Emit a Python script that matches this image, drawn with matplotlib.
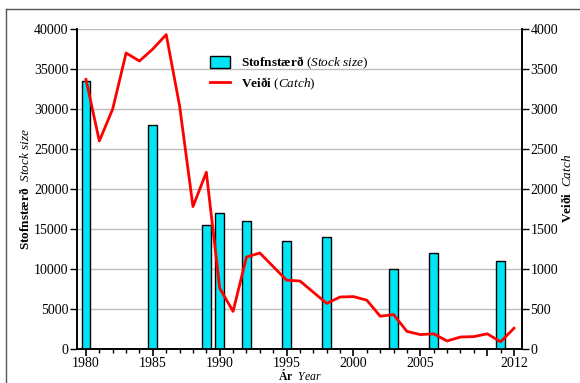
import matplotlib
matplotlib.use("Agg")
import matplotlib.pyplot as plt
from matplotlib.lines import Line2D
from matplotlib.patches import Patch

plt.rcParams['font.family'] = ['Liberation Serif', 'DejaVu Serif']
plt.rcParams['mathtext.fontset'] = 'custom'
plt.rcParams['mathtext.rm'] = 'Liberation Serif'
plt.rcParams['mathtext.it'] = 'Liberation Serif:italic'
plt.rcParams['mathtext.bf'] = 'Liberation Serif:bold'

# stock size surveys (left axis)
stock_years = [1980, 1985, 1989, 1990, 1992, 1995, 1998, 2003, 2006, 2011]
stock_size = [33500, 28000, 15500, 17000, 16000, 13500, 14000, 10000, 12000, 11000]

# yearly catch (right axis)
catch_years = list(range(1980, 2013))
catch = [3370, 2600, 3000, 3700, 3600, 3750, 3930, 3040, 1780, 2210,
         760, 470, 1150, 1200, 1030, 860, 850, 710, 570, 650,
         655, 610, 410, 430, 220, 180, 190, 100, 150, 155,
         190, 90, 260]

xtick_years = [1980, 1985, 1990, 1995, 2000, 2005, 2010, 2012]
xtick_labels = ['1980', '1985', '1990', '1995', '2000', '2005', '', '2012']

fig = plt.figure(figsize=(5.8, 3.83), dpi=100)
W, H = 580, 383
ax = fig.add_axes([77 / W, 1 - 349 / H, 445 / W, 320 / H])
ax2 = ax.twinx()

ax.set_zorder(1)
ax2.set_zorder(2)
ax.patch.set_visible(True)
ax2.patch.set_visible(False)

ax.bar(stock_years, stock_size, width=0.65, color='#00e5f5', edgecolor='black',
       linewidth=1.0, zorder=3)
ax2.plot(catch_years, catch, color='#ff0000', linewidth=2.0, zorder=4)

ax.set_xlim(1979.33, 2012.6)
ax.set_ylim(0, 40000)
ax2.set_ylim(0, 4000)
ax.set_yticks(range(0, 40001, 5000))
ax2.set_yticks(range(0, 4001, 500))
ax.set_xticks(xtick_years)
ax.set_xticklabels(xtick_labels)
ax.set_xticks(catch_years, minor=True)

ax.yaxis.grid(True, color='#bdbdbd', linewidth=1.0, zorder=0)
ax.set_axisbelow(True)

for a in (ax, ax2):
    for s in a.spines.values():
        s.set_linewidth(1.2)
ax.spines['top'].set_visible(False)
ax2.spines['top'].set_visible(False)

ax.tick_params(axis='y', direction='out', length=5, width=1, labelsize=10, pad=1)
ax2.tick_params(axis='y', direction='out', length=5, width=1, labelsize=10, pad=1)
ax.tick_params(axis='x', which='major', direction='out', length=5, width=1.2,
               labelsize=10, pad=1)
ax.tick_params(axis='x', which='minor', direction='out', length=3, width=1)

# axis titles: bold Icelandic + italic English
fig.text(25 / W, 1 - 189 / H, r'$\mathbf{Stofnstærð}$  $\mathit{Stock\ size}$',
         rotation=90, ha='center', va='center', fontsize=9.5)
fig.text(567 / W, 1 - 188 / H, r'$\mathbf{Veiði}$  $\mathit{Catch}$',
         rotation=90, ha='center', va='center', fontsize=9.5)
fig.text(300 / W, 1 - 375.5 / H, r'$\mathbf{Ár}$  $\mathit{Year}$',
         ha='center', va='center', fontsize=8.5)

handles = [Patch(facecolor='#00e5f5', edgecolor='black', linewidth=1.0),
           Line2D([], [], color='#ff0000', linewidth=2.0)]
labels = [r'$\mathbf{Stofnstærð}$ $\mathit{(Stock\ size)}$',
          r'$\mathbf{Veiði}$ $\mathit{(Catch)}$']
ax2.legend(handles, labels, loc='upper left', bbox_to_anchor=(0.285, 0.94),
           frameon=False, fontsize=9.5, handlelength=1.5, handleheight=1.0,
           handletextpad=0.8, borderpad=0, labelspacing=0.3)

# outer border of the figure panel
fig.add_artist(Line2D([6 / W, 6 / W], [0, 1 - 9 / H], color='#555555',
                      linewidth=1.0, transform=fig.transFigure))
fig.add_artist(Line2D([6 / W, 1.01], [1 - 9 / H, 1 - 9 / H], color='#555555',
                      linewidth=1.0, transform=fig.transFigure))

fig.savefig('out.png', dpi=100)
